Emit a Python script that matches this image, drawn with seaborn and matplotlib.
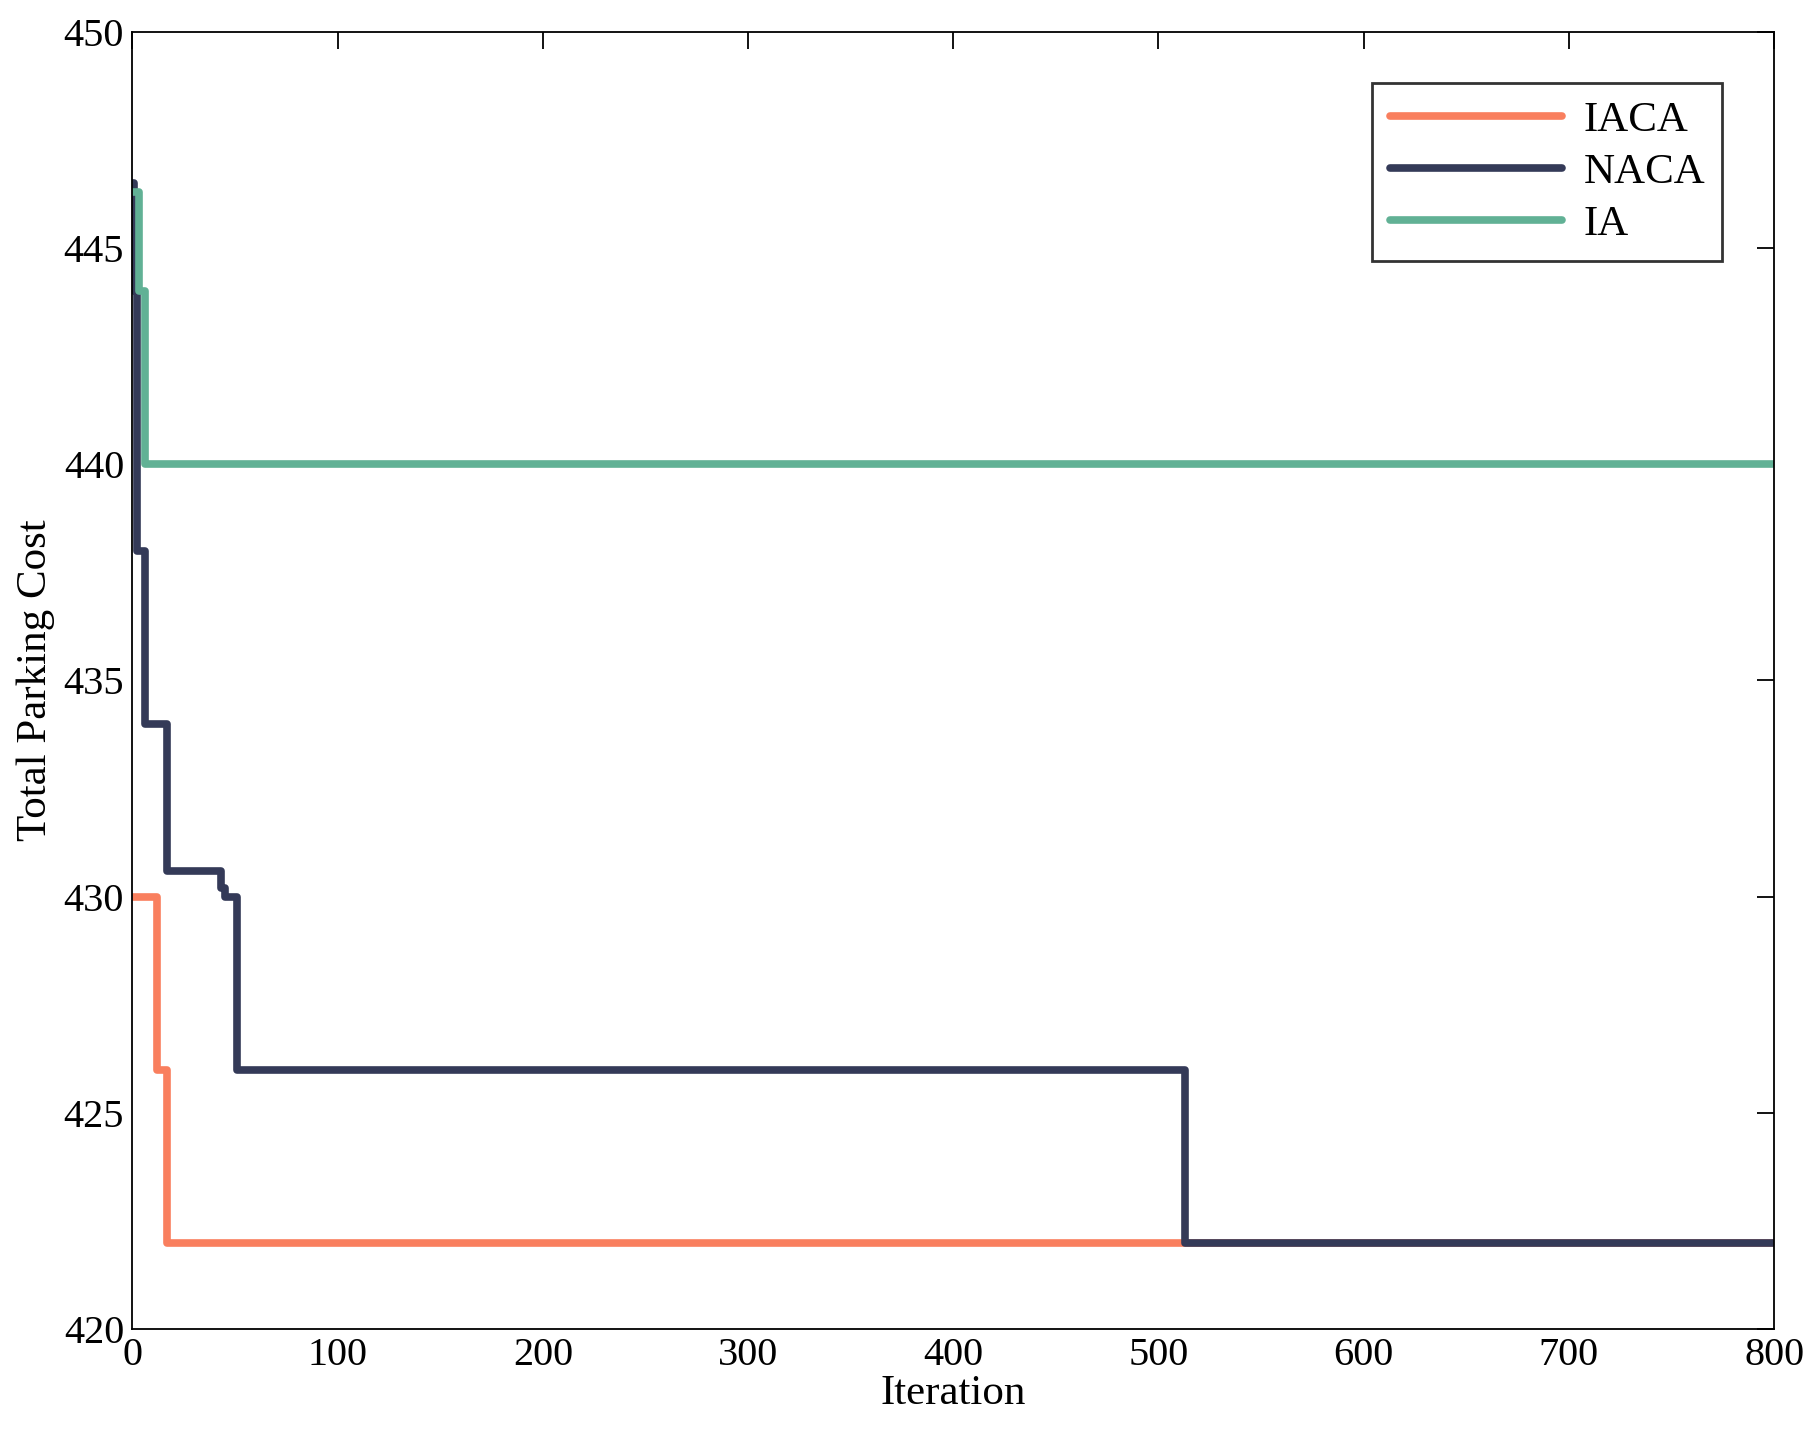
import matplotlib
matplotlib.use("Agg")
import matplotlib.pyplot as plt
import seaborn as sns
import pandas as pd

iaca_x = [0, 12, 17, 800]
iaca_y = [430, 426, 422, 422]
naca_x = [0, 1, 2, 6, 17, 43, 45, 51, 513, 800]
naca_y = [446.5, 444, 438, 434, 430.6, 430.2, 430, 426, 422, 422]
ia_x = [0, 3, 6, 800]
ia_y = [446.3, 444, 440, 440]

sns.set_style("white")
plt.rcParams['font.family'] = ['Liberation Serif', 'DejaVu Serif']
plt.rcParams['text.color'] = 'black'
plt.rcParams['axes.labelcolor'] = 'black'
plt.rcParams['xtick.color'] = 'black'
plt.rcParams['ytick.color'] = 'black'
fig = plt.figure(figsize=(18.14, 14.4), dpi=100)
ax = fig.add_axes([0.073, 0.077, 0.905, 0.901])

series = [("IACA", iaca_x, iaca_y, "#F97F5E"),
          ("NACA", naca_x, naca_y, "#343A58"),
          ("IA", ia_x, ia_y, "#61B195")]
for name, xs, ys, c in series:
    df = pd.DataFrame({"x": xs, "y": ys})
    sns.lineplot(data=df, x="x", y="y", ax=ax, color=c, lw=5.5,
                 drawstyle="steps-post", label=name, estimator=None)

ax.set_xlim(0, 800)
ax.set_ylim(420, 450)
ax.set_xticks(range(0, 801, 100))
ax.set_yticks(range(420, 451, 5))
ax.tick_params(direction="in", labelsize=29, length=12, width=1.3,
               top=True, right=True, pad=6)
for s in ax.spines.values():
    s.set_linewidth(1.3)
    s.set_color("black")
ax.set_xlabel("Iteration", fontsize=31, labelpad=0)
ax.set_ylabel("Total Parking Cost", fontsize=31, labelpad=6)
leg = ax.legend(loc="upper right", fontsize=31, frameon=True, fancybox=False,
                edgecolor="black", borderaxespad=1.2, handlelength=4.0,
                labelspacing=0.3, handletextpad=0.5)
leg.get_frame().set_linewidth(2)
fig.savefig("out.png", dpi=100)
